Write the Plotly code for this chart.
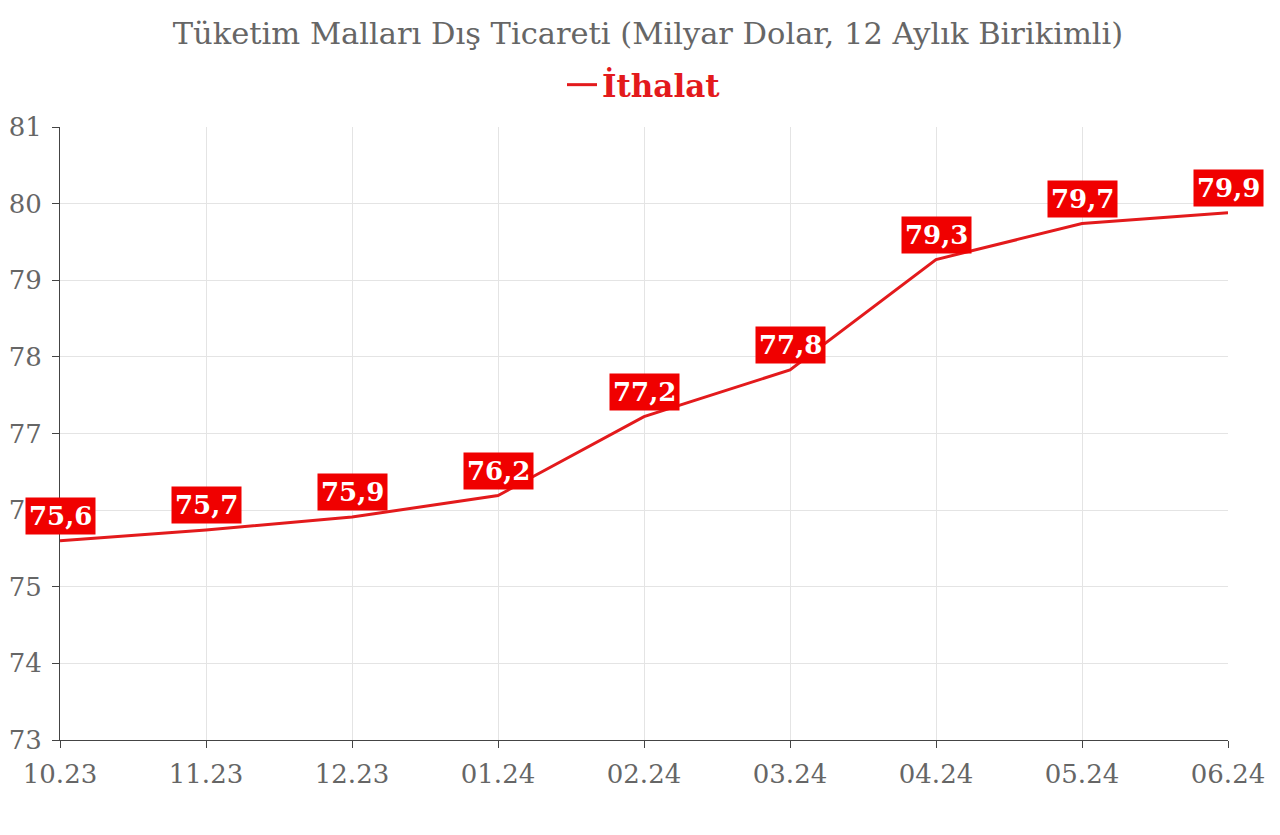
import plotly.graph_objects as go

months = ["10.23", "11.23", "12.23", "01.24", "02.24", "03.24", "04.24", "05.24", "06.24"]
imports = [75.60, 75.74, 75.91, 76.19, 77.22, 77.83, 79.27, 79.74, 79.88]
y_ticks = [73, 74, 75, 76, 77, 78, 79, 80, 81]

LINE_RED = "#e31a1c"
BOX_RED = "#f00000"
GREY = "#666666"
FONT = "DejaVu Serif"

fig = go.Figure()

fig.add_trace(
    go.Scatter(
        x=months,
        y=imports,
        mode="lines",
        name="İthalat",
        line=dict(color=LINE_RED, width=3),
    )
)

# value labels, placed by category index so the numeric-looking names are not misread
for i, v in enumerate(imports):
    fig.add_annotation(
        x=i,
        y=v,
        text=f"<b>{v:.1f}</b>".replace(".", ","),
        showarrow=False,
        yshift=25,
        bgcolor=BOX_RED,
        borderpad=3,
        font=dict(family=FONT, size=26, color="white"),
    )

fig.update_layout(
    width=1280,
    height=835,
    paper_bgcolor="white",
    plot_bgcolor="white",
    margin=dict(l=52, r=60, t=119, b=103),
    font=dict(family=FONT, color=GREY),
    title=dict(
        text="Tüketim Malları Dış Ticareti (Milyar Dolar, 12 Aylık Birikimli)",
        x=0.5,
        xanchor="center",
        y=0.97,
        yanchor="middle",
        font=dict(family=FONT, size=30.5, color=GREY),
    ),
    showlegend=True,
    legend=dict(
        orientation="h",
        x=0.5,
        xanchor="center",
        y=1.0685,
        yanchor="middle",
        font=dict(family=FONT, size=31, color=LINE_RED, weight="bold"),
        itemwidth=30,
    ),
    xaxis=dict(
        type="category",
        range=[0, len(months) - 1],
        automargin=False,
        showgrid=True,
        gridcolor="#e4e4e4",
        showline=True,
        linecolor="#444444",
        ticks="outside",
        ticklen=7,
        tickcolor="#444444",
        ticklabelstandoff=4,
        tickfont=dict(family=FONT, size=26, color=GREY),
        zeroline=False,
    ),
    yaxis=dict(
        range=[73, 81],
        tickvals=y_ticks,
        automargin=False,
        showgrid=True,
        gridcolor="#e4e4e4",
        showline=True,
        linecolor="#444444",
        ticks="outside",
        ticklen=7,
        tickcolor="#444444",
        ticklabelstandoff=5,
        tickfont=dict(family=FONT, size=26, color=GREY),
        zeroline=False,
    ),
)

fig.write_html("out.html")
